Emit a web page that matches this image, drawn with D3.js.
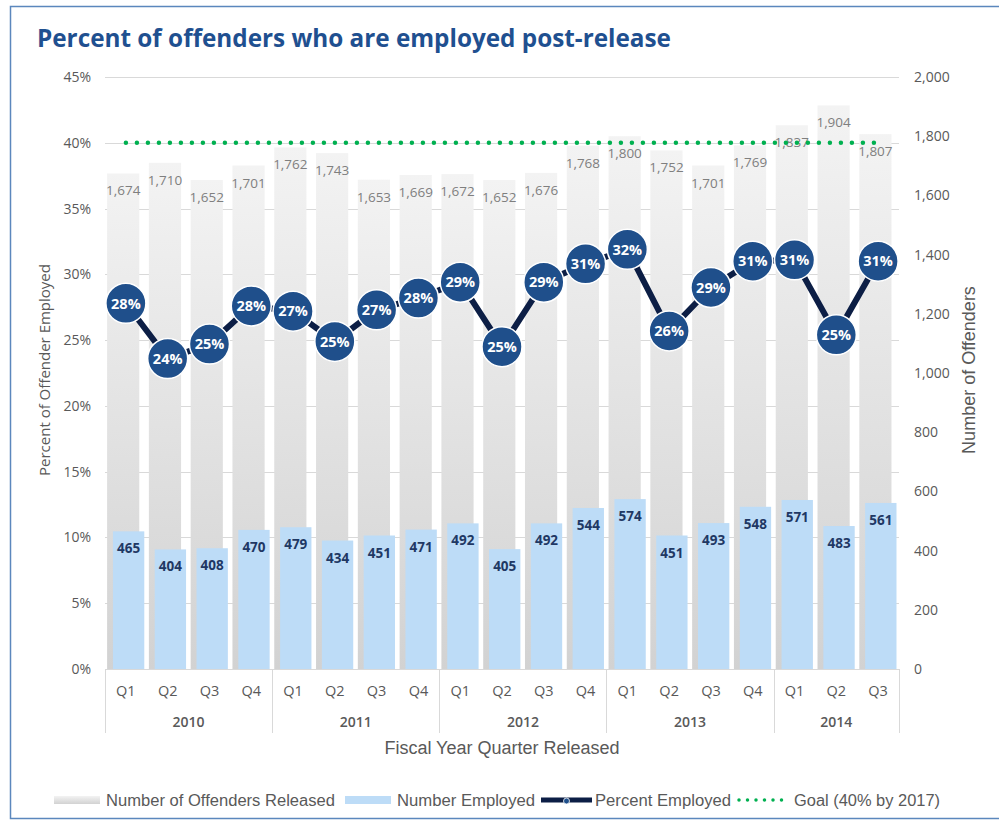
<!DOCTYPE html>
<html>
<head>
<meta charset="utf-8">
<script src="https://cdn.jsdelivr.net/npm/d3@7"></script>
<style>
  body { margin: 0; background: #fff; }
  text { font-family: "Open Sans", "DejaVu Sans", sans-serif; }
</style>
</head>
<body>
<div id="chart"></div>
<script>
// data
var years = ["2010", "2011", "2012", "2013", "2014"];
var quarters = ["Q1", "Q2", "Q3", "Q4", "Q1", "Q2", "Q3", "Q4", "Q1", "Q2", "Q3", "Q4",
                "Q1", "Q2", "Q3", "Q4", "Q1", "Q2", "Q3"];
var quarterYear = [0, 0, 0, 0, 1, 1, 1, 1, 2, 2, 2, 2, 3, 3, 3, 3, 4, 4, 4];
var released = [1674, 1710, 1652, 1701, 1762, 1743, 1653, 1669, 1672, 1652, 1676, 1768,
                1800, 1752, 1701, 1769, 1837, 1904, 1807];
var employed = [465, 404, 408, 470, 479, 434, 451, 471, 492, 405, 492, 544,
                574, 451, 493, 548, 571, 483, 561];
var percentEmployed = [27.8, 23.6, 24.7, 27.6, 27.2, 24.9, 27.3, 28.2, 29.4, 24.5, 29.4, 30.8,
                       31.9, 25.7, 29.0, 31.0, 31.1, 25.4, 31.0];
var goal = 40;
var leftTicks = [0, 5, 10, 15, 20, 25, 30, 35, 40, 45];
var rightTicks = [0, 200, 400, 600, 800, 1000, 1200, 1400, 1600, 1800, 2000];

var W = 999, H = 820;
var margin = {top: 77, right: 100, bottom: 151, left: 105},
    width = W - margin.left - margin.right,
    height = H - margin.top - margin.bottom;

var svg = d3.select("#chart").append("svg")
    .attr("width", W)
    .attr("height", H);

var defs = svg.append("defs");
var grad = defs.append("linearGradient")
    .attr("id", "grayGrad")
    .attr("x1", 0).attr("y1", 0).attr("x2", 0).attr("y2", 1);
grad.append("stop").attr("offset", "0%").attr("stop-color", "#f3f3f3");
grad.append("stop").attr("offset", "100%").attr("stop-color", "#d2d2d2");

// outer frame
svg.append("path")
    .attr("d", "M" + W + ",6.5 H10.5 V818.5 H" + W)
    .attr("fill", "none")
    .attr("stroke", "#5b87bd")
    .attr("stroke-width", 1.5);

svg.append("text")
    .attr("x", 37)
    .attr("y", 47)
    .attr("fill", "#1f5090")
    .attr("font-size", 24.3)
    .attr("font-weight", "bold")
    .text("Percent of offenders who are employed post-release");

var idx = d3.range(quarters.length);

var x = d3.scaleBand().domain(idx).range([0, width]).padding(0),
    yL = d3.scaleLinear().domain([0, 45]).range([height, 0]),
    yR = d3.scaleLinear().domain([0, 2000]).range([height, 0]);
var bw = x.bandwidth();

var g = svg.append("g")
    .attr("transform", "translate(" + margin.left + "," + margin.top + ")");

// gridlines
g.append("g")
    .selectAll("line")
    .data(leftTicks)
    .enter().append("line")
    .attr("x1", 0).attr("x2", width)
    .attr("y1", function (d) { return Math.round(yL(d)) + 0.5; })
    .attr("y2", function (d) { return Math.round(yL(d)) + 0.5; })
    .attr("stroke", "#d9d9d9");

// axes
var yAxisL = d3.axisLeft(yL).tickValues(leftTicks).tickSize(0).tickPadding(14)
    .tickFormat(function (d) { return d + "%"; });
var yAxisR = d3.axisRight(yR).tickValues(rightTicks).tickSize(0).tickPadding(15)
    .tickFormat(d3.format(","));

var gl = g.append("g").call(yAxisL);
var gr = g.append("g").attr("transform", "translate(" + width + ",0)").call(yAxisR);
[gl, gr].forEach(function (a) {
    a.select(".domain").remove();
    a.selectAll("text")
        .attr("fill", "#595959")
        .attr("font-size", 14)
        .style("font-family", "'Open Sans', sans-serif");
});

// released bars
g.append("g")
    .selectAll("rect")
    .data(released)
    .enter().append("rect")
    .attr("x", function (d, i) { return x(i) + bw * 0.05; })
    .attr("width", bw * 0.77)
    .attr("y", function (d) { return yR(d); })
    .attr("height", function (d) { return height - yR(d); })
    .attr("fill", "url(#grayGrad)");

// employed bars
g.append("g")
    .selectAll("rect")
    .data(employed)
    .enter().append("rect")
    .attr("x", function (d, i) { return x(i) + bw * 0.19; })
    .attr("width", bw * 0.75)
    .attr("y", function (d) { return yR(d); })
    .attr("height", function (d) { return height - yR(d); })
    .attr("fill", "#bddcf7");

g.append("g")
    .selectAll("text")
    .data(released)
    .enter().append("text")
    .attr("x", function (d, i) { return x(i) + bw * 0.05 + bw * 0.385; })
    .attr("y", function (d) { return yR(d) + 22; })
    .attr("text-anchor", "middle")
    .attr("font-size", 13.5)
    .attr("fill", "#7f7f7f")
    .text(d3.format(","));

g.append("g")
    .selectAll("text")
    .data(employed)
    .enter().append("text")
    .attr("x", function (d, i) { return x(i) + bw * 0.19 + bw * 0.375; })
    .attr("y", function (d) { return yR(d) + 22; })
    .attr("text-anchor", "middle")
    .attr("font-size", 13.5)
    .attr("font-weight", "bold")
    .attr("fill", "#1f3864")
    .text(function (d) { return d; });

// goal line
g.append("path")
    .datum([0, quarters.length - 1])
    .attr("d", d3.line()
        .x(function (i) { return x(i) + bw / 2; })
        .y(function () { return yL(goal); }))
    .attr("fill", "none")
    .attr("stroke", "#00b050")
    .attr("stroke-width", 4.5)
    .attr("stroke-linecap", "round")
    .attr("stroke-dasharray", "0 11");

// percent line
g.append("path")
    .datum(percentEmployed)
    .attr("d", d3.line()
        .x(function (d, i) { return x(i) + bw / 2; })
        .y(function (d) { return yL(d); }))
    .attr("fill", "none")
    .attr("stroke", "#0c1e45")
    .attr("stroke-width", 6);

var mk = g.append("g")
    .selectAll("g")
    .data(percentEmployed)
    .enter().append("g")
    .attr("transform", function (d, i) { return "translate(" + (x(i) + bw / 2) + "," + yL(d) + ")"; });
mk.append("circle")
    .attr("r", 20)
    .attr("fill", "#1f4f8b")
    .attr("stroke", "#fff")
    .attr("stroke-width", 1.5);
mk.append("text")
    .attr("text-anchor", "middle")
    .attr("dy", "0.36em")
    .attr("font-size", 14.5)
    .attr("font-weight", "bold")
    .attr("fill", "#fff")
    .text(function (d) { return Math.round(d) + "%"; });

// category axis
var ax = g.append("g").attr("transform", "translate(0," + height + ")");
ax.append("line")
    .attr("x1", 0).attr("x2", width)
    .attr("y1", 0.5).attr("y2", 0.5)
    .attr("stroke", "#d9d9d9");
ax.selectAll(".q")
    .data(quarters)
    .enter().append("text")
    .attr("class", "q")
    .attr("x", function (d, i) { return x(i) + bw / 2; })
    .attr("y", 27)
    .attr("text-anchor", "middle")
    .attr("font-size", 14.5)
    .attr("fill", "#595959")
    .text(function (d) { return d; });

var yearSpans = years.map(function (y, k) {
    var members = idx.filter(function (i) { return quarterYear[i] === k; });
    return {year: y, first: d3.min(members), last: d3.max(members)};
});
ax.selectAll(".sep")
    .data(yearSpans.map(function (s) { return s.first; }).concat([quarters.length]))
    .enter().append("line")
    .attr("class", "sep")
    .attr("x1", function (i) { return Math.round(i * bw) + 0.5; })
    .attr("x2", function (i) { return Math.round(i * bw) + 0.5; })
    .attr("y1", 0).attr("y2", 64)
    .attr("stroke", "#d9d9d9");
ax.selectAll(".yr")
    .data(yearSpans)
    .enter().append("text")
    .attr("class", "yr")
    .attr("x", function (s) { return (x(s.first) + x(s.last) + bw) / 2; })
    .attr("y", 58)
    .attr("text-anchor", "middle")
    .attr("font-size", 14)
    .attr("font-weight", 600)
    .attr("fill", "#595959")
    .text(function (s) { return s.year; });

// axis titles
svg.append("text")
    .attr("x", margin.left + width / 2)
    .attr("y", 754)
    .attr("text-anchor", "middle")
    .attr("font-size", 18)
    .attr("fill", "#595959")
    .style("font-family", "'Liberation Sans', Arial, sans-serif")
    .text("Fiscal Year Quarter Released");

svg.append("text")
    .attr("transform", "translate(50,370) rotate(-90)")
    .attr("text-anchor", "middle")
    .attr("font-size", 15)
    .attr("fill", "#595959")
    .text("Percent of Offender Employed");

svg.append("text")
    .attr("transform", "translate(975,370) rotate(-90)")
    .attr("text-anchor", "middle")
    .attr("font-size", 18)
    .attr("fill", "#595959")
    .style("font-family", "'Liberation Sans', Arial, sans-serif")
    .text("Number of Offenders");

// legend
var legend = svg.append("g").attr("transform", "translate(0,800)");
var legFont = "'Liberation Sans Narrow', 'Liberation Sans', Arial, sans-serif";
var items = [
    {label: "Number of Offenders Released", x: 54, tx: 106, tw: 229, type: "gray"},
    {label: "Number Employed", x: 345, tx: 397, tw: 138, type: "blue"},
    {label: "Percent Employed", x: 541, tx: 595, tw: 136, type: "line"},
    {label: "Goal (40% by 2017)", x: 737, tx: 794, tw: 146, type: "goal"}
];
items.forEach(function (it) {
    if (it.type === "gray" || it.type === "blue") {
        legend.append("rect")
            .attr("x", it.x).attr("y", -4)
            .attr("width", 46).attr("height", 8)
            .attr("fill", it.type === "gray" ? "url(#grayGrad)" : "#bddcf7");
    } else if (it.type === "line") {
        legend.append("line")
            .attr("x1", it.x).attr("x2", it.x + 51)
            .attr("y1", 0).attr("y2", 0)
            .attr("stroke", "#0c1e45").attr("stroke-width", 5);
        legend.append("circle")
            .attr("cx", it.x + 25.5).attr("cy", 1).attr("r", 3)
            .attr("fill", "#1f4f8b").attr("stroke", "#fff").attr("stroke-width", 0.8);
    } else {
        legend.append("line")
            .attr("x1", it.x + 2).attr("x2", it.x + 53)
            .attr("y1", 0).attr("y2", 0)
            .attr("stroke", "#00b050").attr("stroke-width", 3.5)
            .attr("stroke-linecap", "round")
            .attr("stroke-dasharray", "0 8.5");
    }
    legend.append("text")
        .attr("x", it.tx)
        .attr("y", 6)
        .attr("font-size", 16)
        .attr("fill", "#595959")
        .attr("textLength", it.tw)
        .attr("lengthAdjust", "spacingAndGlyphs")
        .style("font-family", legFont)
        .text(it.label);
});
</script>
</body>
</html>
